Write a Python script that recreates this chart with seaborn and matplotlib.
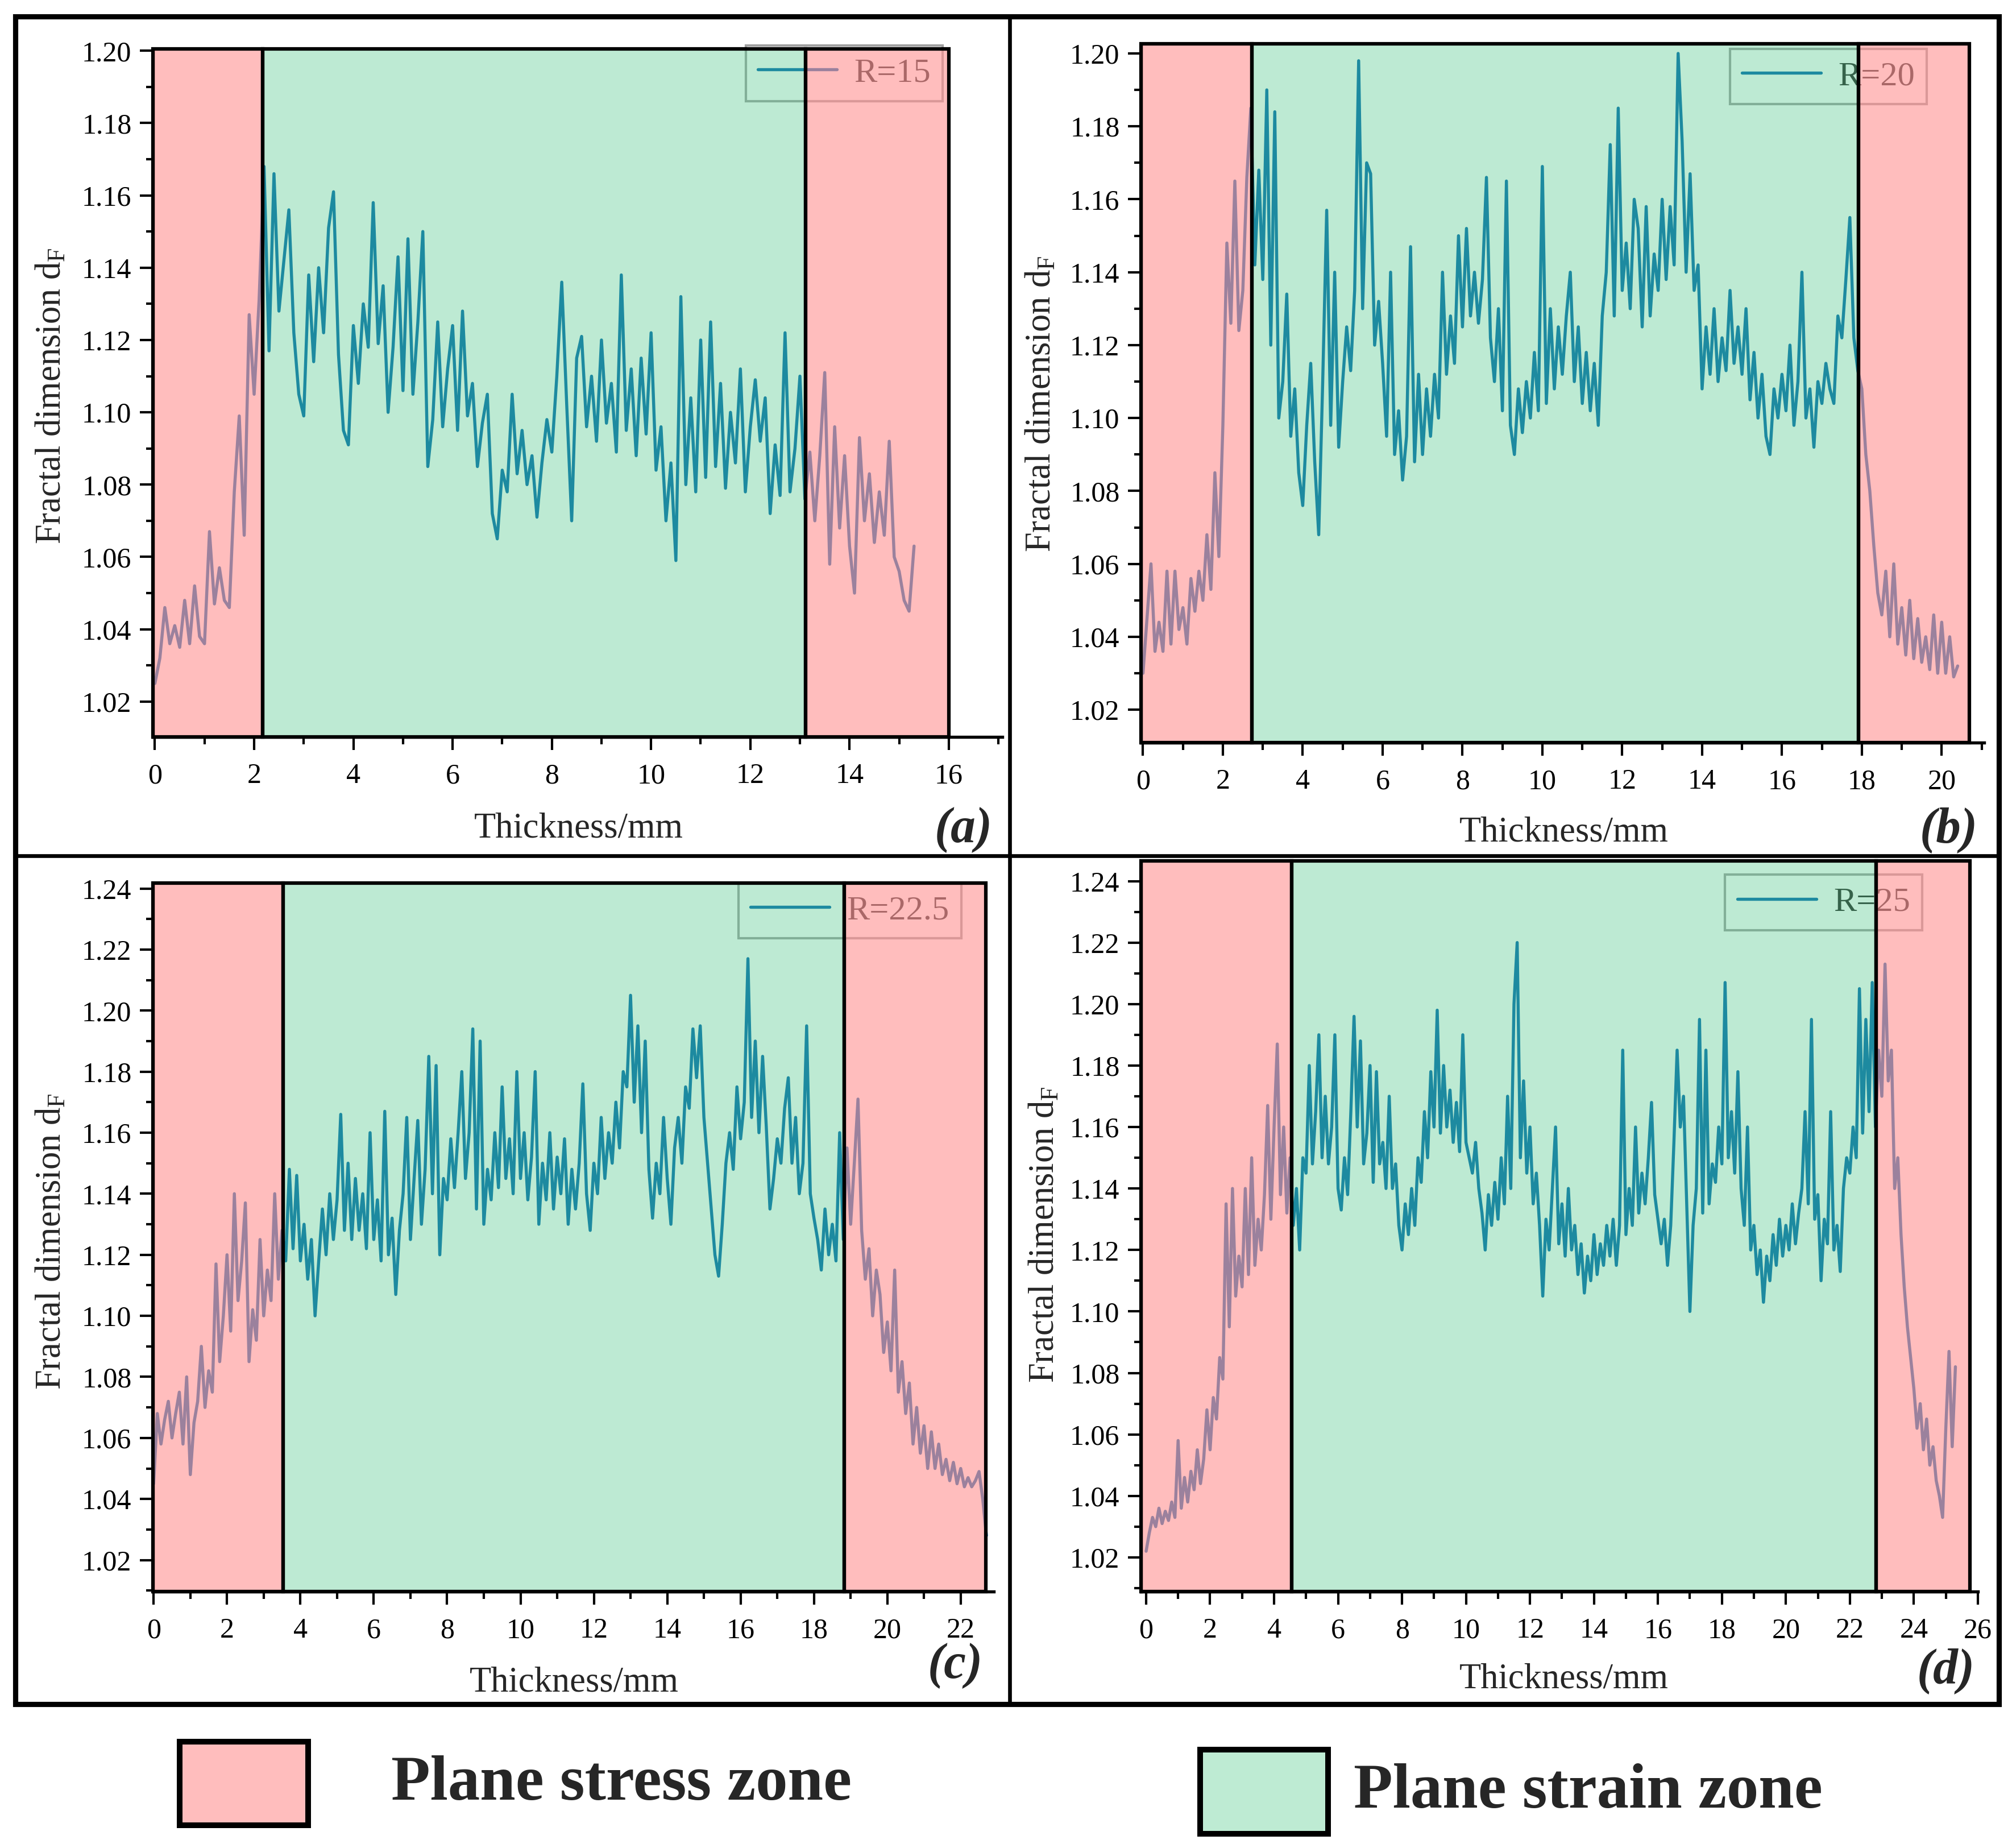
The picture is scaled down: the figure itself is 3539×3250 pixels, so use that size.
import numpy as np
import pandas as pd
import seaborn as sns
import matplotlib
matplotlib.use('Agg')
import matplotlib.pyplot as plt
from matplotlib.patches import Rectangle
from matplotlib.lines import Line2D
from matplotlib.ticker import MultipleLocator, FormatStrFormatter

# fractal dimension sampled every 0.1 mm through the thickness
STEP = 0.1

r15 = [1.025, 1.032, 1.046, 1.036, 1.041, 1.035, 1.048, 1.036, 1.052, 1.038,
       1.036, 1.067, 1.047, 1.057, 1.048, 1.046, 1.078, 1.099, 1.066, 1.127,
       1.105, 1.131, 1.168, 1.117, 1.166, 1.128, 1.142, 1.156, 1.122, 1.105,
       1.099, 1.138, 1.114, 1.140, 1.122, 1.151, 1.161, 1.116, 1.095, 1.091,
       1.124, 1.108, 1.130, 1.118, 1.158, 1.119, 1.135, 1.100, 1.118, 1.143,
       1.106, 1.148, 1.105, 1.125, 1.150, 1.085, 1.098, 1.125, 1.096, 1.112,
       1.124, 1.095, 1.128, 1.099, 1.108, 1.085, 1.097, 1.105, 1.072, 1.065,
       1.084, 1.078, 1.105, 1.083, 1.095, 1.080, 1.088, 1.071, 1.086, 1.098,
       1.089, 1.110, 1.136, 1.102, 1.070, 1.115, 1.121, 1.096, 1.110, 1.092,
       1.120, 1.097, 1.108, 1.089, 1.138, 1.095, 1.112, 1.088, 1.115, 1.094,
       1.122, 1.084, 1.096, 1.070, 1.086, 1.059, 1.132, 1.080, 1.104, 1.078,
       1.120, 1.082, 1.125, 1.085, 1.108, 1.079, 1.100, 1.086, 1.112, 1.078,
       1.096, 1.109, 1.092, 1.104, 1.072, 1.091, 1.077, 1.122, 1.078, 1.090,
       1.110, 1.076, 1.089, 1.070, 1.088, 1.111, 1.058, 1.096, 1.068, 1.088,
       1.063, 1.050, 1.093, 1.070, 1.083, 1.064, 1.078, 1.066, 1.092, 1.060,
       1.056, 1.048, 1.045, 1.063]

r20 = [1.030, 1.045, 1.060, 1.036, 1.044, 1.036, 1.058, 1.038, 1.058, 1.042,
       1.048, 1.038, 1.056, 1.047, 1.058, 1.050, 1.068, 1.053, 1.085, 1.062,
       1.098, 1.148, 1.126, 1.165, 1.124, 1.135, 1.166, 1.185, 1.142, 1.168,
       1.138, 1.190, 1.120, 1.184, 1.100, 1.110, 1.134, 1.095, 1.108, 1.085,
       1.076, 1.098, 1.115, 1.088, 1.068, 1.110, 1.157, 1.098, 1.140, 1.092,
       1.110, 1.125, 1.113, 1.135, 1.198, 1.130, 1.170, 1.167, 1.120, 1.132,
       1.115, 1.095, 1.140, 1.090, 1.102, 1.083, 1.095, 1.147, 1.088, 1.112,
       1.090, 1.108, 1.095, 1.112, 1.100, 1.140, 1.112, 1.128, 1.115, 1.150,
       1.125, 1.152, 1.128, 1.140, 1.126, 1.138, 1.166, 1.122, 1.110, 1.130,
       1.102, 1.165, 1.098, 1.090, 1.108, 1.096, 1.110, 1.100, 1.118, 1.102,
       1.169, 1.104, 1.130, 1.108, 1.125, 1.112, 1.128, 1.140, 1.110, 1.125,
       1.104, 1.118, 1.102, 1.115, 1.098, 1.128, 1.140, 1.175, 1.128, 1.185,
       1.135, 1.148, 1.130, 1.160, 1.152, 1.125, 1.158, 1.128, 1.145, 1.135,
       1.160, 1.138, 1.158, 1.142, 1.200, 1.176, 1.140, 1.167, 1.135, 1.142,
       1.108, 1.125, 1.112, 1.130, 1.110, 1.122, 1.113, 1.135, 1.115, 1.125,
       1.112, 1.130, 1.105, 1.118, 1.100, 1.112, 1.095, 1.090, 1.108, 1.100,
       1.112, 1.102, 1.120, 1.098, 1.110, 1.140, 1.100, 1.108, 1.092, 1.110,
       1.104, 1.115, 1.108, 1.104, 1.128, 1.122, 1.138, 1.155, 1.122, 1.113,
       1.108, 1.090, 1.080, 1.065, 1.052, 1.046, 1.058, 1.040, 1.060, 1.038,
       1.048, 1.035, 1.050, 1.034, 1.045, 1.033, 1.040, 1.031, 1.046, 1.030,
       1.044, 1.030, 1.040, 1.029, 1.032]

r225 = [1.045, 1.068, 1.058, 1.066, 1.072, 1.060, 1.068, 1.075, 1.058, 1.080,
        1.048, 1.065, 1.072, 1.090, 1.070, 1.082, 1.075, 1.117, 1.085, 1.100,
        1.120, 1.095, 1.140, 1.105, 1.118, 1.137, 1.085, 1.102, 1.092, 1.125,
        1.100, 1.115, 1.105, 1.140, 1.112, 1.128, 1.118, 1.148, 1.122, 1.146,
        1.118, 1.130, 1.112, 1.125, 1.100, 1.118, 1.135, 1.120, 1.140, 1.125,
        1.138, 1.166, 1.128, 1.150, 1.125, 1.145, 1.128, 1.140, 1.122, 1.160,
        1.125, 1.138, 1.118, 1.167, 1.120, 1.132, 1.107, 1.128, 1.140, 1.165,
        1.125, 1.145, 1.164, 1.130, 1.148, 1.185, 1.140, 1.182, 1.120, 1.145,
        1.138, 1.158, 1.142, 1.160, 1.180, 1.145, 1.160, 1.194, 1.135, 1.190,
        1.130, 1.148, 1.138, 1.160, 1.142, 1.175, 1.145, 1.158, 1.140, 1.180,
        1.145, 1.160, 1.138, 1.152, 1.180, 1.130, 1.150, 1.138, 1.160, 1.135,
        1.152, 1.140, 1.158, 1.130, 1.148, 1.135, 1.150, 1.176, 1.140, 1.128,
        1.150, 1.140, 1.165, 1.145, 1.160, 1.150, 1.170, 1.155, 1.180, 1.175,
        1.205, 1.170, 1.195, 1.160, 1.190, 1.148, 1.132, 1.150, 1.140, 1.165,
        1.145, 1.130, 1.155, 1.165, 1.150, 1.175, 1.168, 1.194, 1.178, 1.195,
        1.165, 1.150, 1.135, 1.120, 1.113, 1.130, 1.150, 1.160, 1.148, 1.175,
        1.158, 1.170, 1.217, 1.165, 1.190, 1.160, 1.185, 1.162, 1.135, 1.145,
        1.158, 1.150, 1.168, 1.178, 1.150, 1.165, 1.140, 1.150, 1.195, 1.140,
        1.132, 1.125, 1.115, 1.135, 1.120, 1.130, 1.118, 1.160, 1.125, 1.155,
        1.130, 1.150, 1.171, 1.128, 1.112, 1.122, 1.100, 1.115, 1.107, 1.088,
        1.098, 1.082, 1.115, 1.075, 1.085, 1.068, 1.078, 1.058, 1.070, 1.055,
        1.064, 1.050, 1.062, 1.050, 1.058, 1.048, 1.053, 1.046, 1.052, 1.045,
        1.050, 1.044, 1.047, 1.044, 1.046, 1.049, 1.040, 1.028]

r25 = [1.022, 1.028, 1.033, 1.030, 1.036, 1.031, 1.035, 1.032, 1.038, 1.033,
       1.058, 1.036, 1.046, 1.038, 1.048, 1.042, 1.055, 1.044, 1.052, 1.068,
       1.055, 1.072, 1.065, 1.085, 1.078, 1.135, 1.095, 1.140, 1.105, 1.118,
       1.108, 1.140, 1.112, 1.150, 1.115, 1.130, 1.120, 1.138, 1.167, 1.130,
       1.160, 1.187, 1.138, 1.160, 1.132, 1.150, 1.128, 1.140, 1.120, 1.150,
       1.145, 1.180, 1.148, 1.165, 1.190, 1.150, 1.170, 1.148, 1.160, 1.190,
       1.140, 1.133, 1.150, 1.138, 1.165, 1.196, 1.160, 1.188, 1.148, 1.158,
       1.180, 1.142, 1.178, 1.148, 1.155, 1.140, 1.170, 1.140, 1.148, 1.128,
       1.120, 1.135, 1.125, 1.140, 1.128, 1.150, 1.142, 1.165, 1.150, 1.178,
       1.160, 1.198, 1.158, 1.180, 1.160, 1.172, 1.155, 1.168, 1.152, 1.190,
       1.155, 1.150, 1.145, 1.155, 1.140, 1.132, 1.120, 1.138, 1.128, 1.142,
       1.130, 1.150, 1.135, 1.170, 1.140, 1.200, 1.220, 1.150, 1.175, 1.145,
       1.160, 1.135, 1.145, 1.128, 1.105, 1.130, 1.120, 1.140, 1.160, 1.122,
       1.135, 1.118, 1.140, 1.120, 1.128, 1.112, 1.122, 1.106, 1.118, 1.110,
       1.125, 1.112, 1.122, 1.115, 1.128, 1.118, 1.130, 1.115, 1.128, 1.185,
       1.125, 1.140, 1.128, 1.160, 1.132, 1.145, 1.135, 1.150, 1.168, 1.138,
       1.130, 1.122, 1.130, 1.115, 1.128, 1.155, 1.185, 1.160, 1.170, 1.135,
       1.100, 1.128, 1.140, 1.195, 1.132, 1.185, 1.135, 1.148, 1.142, 1.160,
       1.148, 1.207, 1.150, 1.165, 1.145, 1.178, 1.140, 1.128, 1.160, 1.120,
       1.128, 1.112, 1.120, 1.103, 1.118, 1.110, 1.125, 1.115, 1.130, 1.118,
       1.128, 1.120, 1.135, 1.122, 1.132, 1.140, 1.165, 1.135, 1.195, 1.130,
       1.138, 1.110, 1.130, 1.122, 1.165, 1.120, 1.128, 1.113, 1.140, 1.150,
       1.145, 1.160, 1.150, 1.205, 1.158, 1.195, 1.165, 1.207, 1.160, 1.185,
       1.170, 1.213, 1.175, 1.185, 1.140, 1.150, 1.125, 1.108, 1.095, 1.085,
       1.075, 1.062, 1.070, 1.055, 1.065, 1.050, 1.056, 1.045, 1.040, 1.033,
       1.062, 1.087, 1.056, 1.082]

labels = ['R=15', 'R=20', 'R=22.5', 'R=25']
series = [r15, r20, r225, r25]
# zone boundaries: stress | strain | stress (mm)
zones = [(2.17, 13.11, 16.0), (2.73, 17.91, 20.69),
         (3.53, 18.82, 22.69), (4.55, 22.83, 25.76)]
xlims = [(-0.04, 17.08), (-0.05, 21.06), (-0.02, 22.9), (-0.16, 26.0)]
ylims = [(1.0102, 1.2005), (1.011, 1.2027), (1.0097, 1.2418), (1.0089, 1.2466)]
panel_tags = ['a', 'b', 'c', 'd']

LINE = '#0066AE'
PINK = (1.0, 147 / 255, 147 / 255, 0.61)
GREEN = (80 / 255, 201 / 255, 137 / 255, 0.373)

sns.set_theme(style='ticks')
plt.rcParams['font.family'] = ['Liberation Serif', 'DejaVu Serif']
plt.rcParams['mathtext.default'] = 'regular'

fig = plt.figure(figsize=(3539 / 300, 3250 / 300), dpi=300)

positions = [(0.0760, 0.6012, 0.4222, 0.3723), (0.5671, 0.5982, 0.4190, 0.3782),
             (0.0760, 0.1388, 0.4179, 0.3834), (0.5671, 0.1388, 0.4159, 0.3954)]
leg_anchor = [(0.9297, 1.005), (0.932, 0.9927), (0.9615, 1.0), (0.9334, 0.981)]
xlab_pos = [(0.2877, 0.5514), (0.7773, 0.5495), (0.2854, 0.0895), (0.7773, 0.0911)]
ylab_pos = [(0.0257, 0.7858), (0.5177, 0.7815), (0.0257, 0.3283), (0.5193, 0.332)]
tag_pos = [(0.479, 0.5508), (0.9686, 0.551), (0.4747, 0.0985), (0.9672, 0.0957)]

for i in range(4):
    ax = fig.add_axes(positions[i])
    y = series[i]
    df = pd.DataFrame({'Thickness': np.round(np.arange(len(y)) * STEP, 2), 'dF': y})
    sns.lineplot(data=df, x='Thickness', y='dF', ax=ax, color=LINE, lw=1.3,
                 label=labels[i], zorder=3)
    ax.set_xlim(*xlims[i])
    ax.set_ylim(*ylims[i])
    ax.set_facecolor('white')
    ylo, yhi = ylims[i]
    x0 = xlims[i][0]
    b1, b2, b3 = zones[i]
    for (xa, xb, c) in [(x0, b1, PINK), (b1, b2, GREEN), (b2, b3, PINK)]:
        ax.add_patch(Rectangle((xa, ylo), xb - xa, yhi - ylo, facecolor=c,
                               edgecolor='black', lw=1.5, zorder=10, clip_on=False))

    leg = ax.legend(loc='upper right', bbox_to_anchor=leg_anchor[i], borderaxespad=0,
                    frameon=True, fancybox=False, fontsize=14.5, handlelength=2.3,
                    borderpad=0.35, handletextpad=0.5)
    leg.get_frame().set_edgecolor('#8a8a8a')
    leg.get_frame().set_facecolor('none')
    leg.get_frame().set_linewidth(1.0)
    leg.set_zorder(5)

    ax.set_xlabel('')
    ax.set_ylabel('')
    sns.despine(ax=ax)
    for s in ['left', 'bottom']:
        ax.spines[s].set_color('black')
        ax.spines[s].set_linewidth(1.3)
    ax.xaxis.set_major_locator(MultipleLocator(2))
    ax.xaxis.set_minor_locator(MultipleLocator(1))
    ax.yaxis.set_major_locator(MultipleLocator(0.02))
    ax.yaxis.set_minor_locator(MultipleLocator(0.01))
    ax.yaxis.set_major_formatter(FormatStrFormatter('%.2f'))
    ax.tick_params(which='both', direction='out', color='black', width=1.0,
                   labelsize=12, labelcolor='black')
    ax.tick_params(which='major', length=5.5)
    ax.tick_params(which='minor', length=3)
    ax.tick_params(axis='x', which='major', pad=5.5)
    ax.tick_params(axis='y', which='major', pad=3.5)

    fig.text(*xlab_pos[i], 'Thickness/mm', fontsize=15, ha='center', va='center')
    fig.text(*ylab_pos[i], 'Fractal dimension d$_{F}$', fontsize=15, rotation=90,
             ha='center', va='center')
    fig.text(*tag_pos[i], '(' + panel_tags[i] + ')', fontsize=21, fontweight='bold',
             fontstyle='italic', ha='center', va='center')

# panel frame
fig.add_artist(Rectangle((0.0076, 0.0778), 0.9859, 0.9133, transform=fig.transFigure,
                         fill=False, lw=2.2, ec='black'))
fig.add_artist(Line2D([0.5018, 0.5018], [0.0778, 0.9911], transform=fig.transFigure,
                      lw=1.6, color='black'))
fig.add_artist(Line2D([0.0076, 0.9935], [0.5369, 0.5369], transform=fig.transFigure,
                      lw=1.6, color='black'))

# zone legend at the bottom
fig.add_artist(Rectangle((0.0893, 0.0123), 0.0639, 0.0452, transform=fig.transFigure,
                         facecolor='#FFBDBD', edgecolor='black', lw=2.4))
fig.add_artist(Rectangle((0.5965, 0.0077), 0.0636, 0.0455, transform=fig.transFigure,
                         facecolor='#BEEBD3', edgecolor='black', lw=2.4))
fig.text(0.1944, 0.0345, 'Plane stress zone', fontsize=27, fontweight='bold',
         ha='left', va='center')
fig.text(0.6728, 0.0302, 'Plane strain zone', fontsize=27, fontweight='bold',
         ha='left', va='center')

fig.savefig('out.png', dpi=300)
